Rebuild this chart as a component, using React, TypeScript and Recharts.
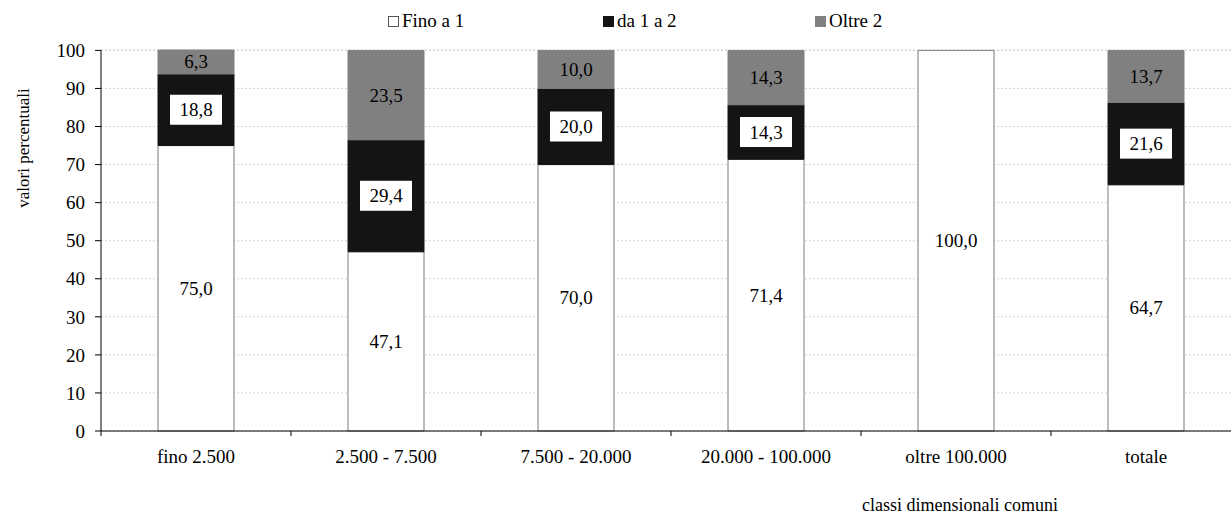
import { Bar, BarChart, CartesianGrid, Label, LabelList, XAxis, YAxis } from "recharts";

const categories = ["fino 2.500", "2.500 - 7.500", "7.500 - 20.000", "20.000 - 100.000", "oltre 100.000", "totale"];
const finoA1 = [75.0, 47.1, 70.0, 71.4, 100.0, 64.7];
const da1a2 = [18.8, 29.4, 20.0, 14.3, 0, 21.6];
const oltre2 = [6.3, 23.5, 10.0, 14.3, 0, 13.7];
const yTicks = [0, 10, 20, 30, 40, 50, 60, 70, 80, 90, 100];

const data = categories.map((name, i) => ({
  name,
  fino: finoA1[i],
  da: da1a2[i],
  oltre: oltre2[i],
}));

const FONT = "Liberation Serif, DejaVu Serif, Times New Roman, Times, serif";
const FS = 19;
const fmt = (v: number) => v.toFixed(1).replace(".", ",");

function plainLabel(props: any) {
  const { x, y, width, height, value } = props;
  if (!value) return null;
  return (
    <text
      x={x + width / 2}
      y={y + height / 2}
      textAnchor="middle"
      dominantBaseline="central"
      fontSize={FS}
      fontFamily={FONT}
      fill="#000"
    >
      {fmt(value)}
    </text>
  );
}

function boxedLabel(props: any) {
  const { x, y, width, height, value } = props;
  if (!value) return null;
  const cx = x + width / 2;
  const cy = y + height / 2;
  return (
    <g>
      <rect x={cx - 26} y={cy - 15} width={52} height={30} fill="#fff" />
      <text x={cx} y={cy} textAnchor="middle" dominantBaseline="central" fontSize={FS} fontFamily={FONT} fill="#000">
        {fmt(value)}
      </text>
    </g>
  );
}

function XTick(props: any) {
  const { x, y, payload, index, visibleTicksCount } = props;
  const half = payload.offset || 95;
  return (
    <g>
      <line x1={x - half} x2={x - half} y1={y} y2={y + 5} stroke="#000" />
      {index === visibleTicksCount - 1 && <line x1={x + half} x2={x + half} y1={y} y2={y + 5} stroke="#000" />}
      <text x={x} y={y + 32} textAnchor="middle" fontSize={FS} fontFamily={FONT} fill="#000">
        {payload.value}
      </text>
    </g>
  );
}

const legendItems = [
  { name: "Fino a 1", fill: "#fff", left: 388 },
  { name: "da 1 a 2", fill: "#131416", left: 603 },
  { name: "Oltre 2", fill: "#808080", left: 815 },
];

export default function App() {
  return (
    <div style={{ position: "fixed", left: 0, top: 0, width: 1231, height: 516, overflow: "hidden", background: "#fff" }}>
      {legendItems.map((it) => (
        <div
          key={it.name}
          style={{
            position: "absolute",
            left: it.left,
            top: 10,
            display: "flex",
            alignItems: "center",
            fontFamily: FONT,
            fontSize: FS,
            color: "#000",
            whiteSpace: "nowrap",
          }}
        >
          <span
            style={{
              display: "inline-block",
              width: 9,
              height: 9,
              background: it.fill,
              border: it.fill === "#fff" ? "1px solid #555" : `1px solid ${it.fill}`,
              marginRight: 3,
            }}
          />
          {it.name}
        </div>
      ))}
      <BarChart
        width={1245}
        height={516}
        data={data}
        margin={{ top: 50, right: 4, bottom: 0, left: 0 }}
        barCategoryGap="30%"
        style={{ position: "absolute", left: 0, top: 0 }}
      >
        <CartesianGrid vertical={false} stroke="#d4d4d4" strokeDasharray="2 2" />
        <XAxis
          dataKey="name"
          height={85}
          tickLine={false}
          tickSize={0}
          tickMargin={0}
          axisLine={{ stroke: "#000" }}
          tick={XTick}
          interval={0}
        >
          <Label
            content={() => (
              <text x={862} y={511} textAnchor="start" fontSize={18} fontFamily={FONT} fill="#000">
                classi dimensionali comuni
              </text>
            )}
          />
        </XAxis>
        <YAxis
          width={101}
          domain={[0, 100]}
          ticks={yTicks}
          interval={0}
          tickSize={6}
          tickMargin={10}
          axisLine={{ stroke: "#000" }}
          tickLine={{ stroke: "#000" }}
          tick={{ fontSize: FS, fontFamily: FONT, fill: "#000" }}
        >
          <Label
            content={() => (
              <text
                x={23}
                y={148}
                transform="rotate(-90 23 148)"
                textAnchor="middle"
                dominantBaseline="central"
                fontSize={17}
                fontFamily={FONT}
                fill="#000"
              >
                valori percentuali
              </text>
            )}
          />
        </YAxis>
        <Bar dataKey="fino" stackId="a" fill="#fff" stroke="#7a7a7a" strokeWidth={1} isAnimationActive={false}>
          <LabelList dataKey="fino" content={plainLabel} />
        </Bar>
        <Bar dataKey="da" stackId="a" fill="#131416" stroke="#131416" strokeWidth={1} isAnimationActive={false}>
          <LabelList dataKey="da" content={boxedLabel} />
        </Bar>
        <Bar dataKey="oltre" stackId="a" fill="#808080" stroke="#808080" strokeWidth={1} isAnimationActive={false}>
          <LabelList dataKey="oltre" content={plainLabel} />
        </Bar>
      </BarChart>
    </div>
  );
}
